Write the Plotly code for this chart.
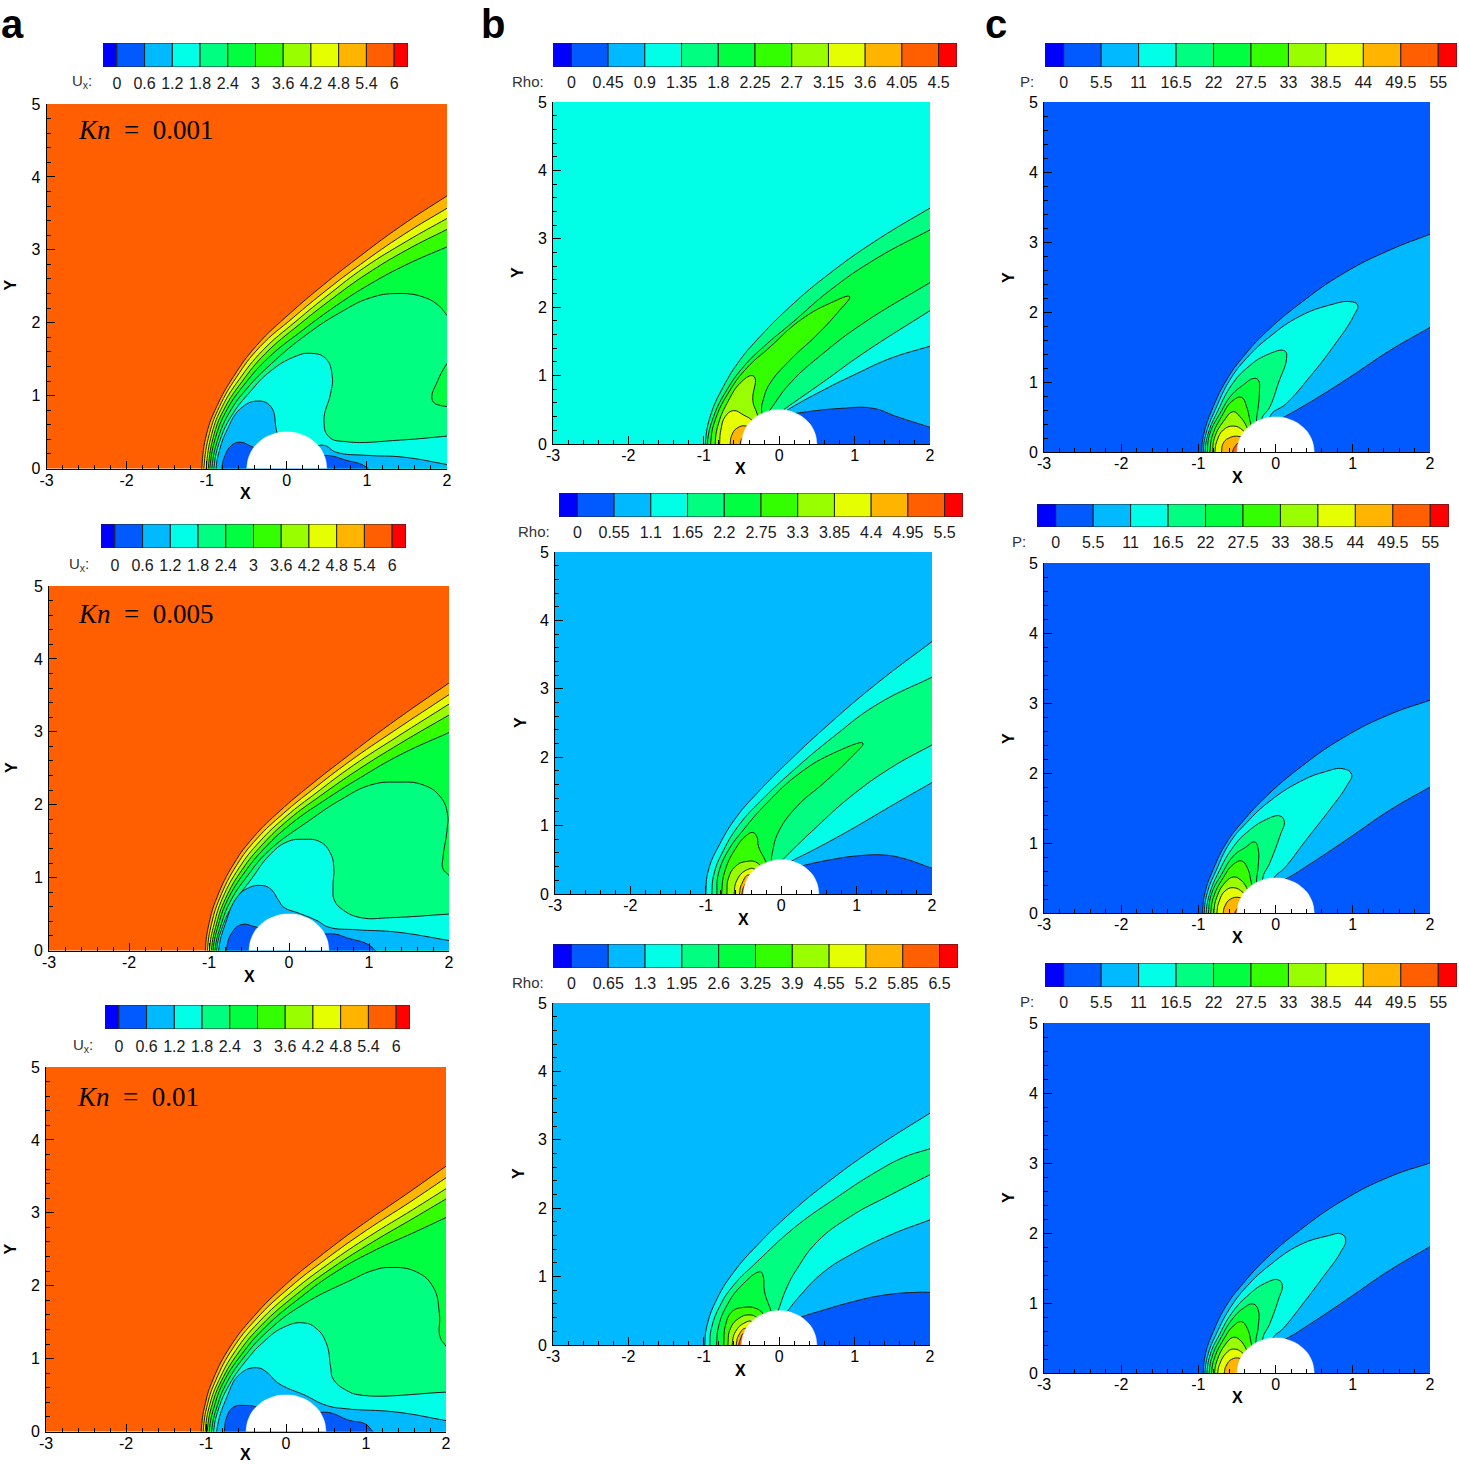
import plotly.graph_objects as go

W, H = 1459, 1465

# ---------- contour level colours (index 1..12 of the legend bar) ----------
LEVEL_COLORS = ["#0000FF", "#005AFF", "#00B9FF", "#00FFE6", "#00FF80", "#00FF40",
                "#33FF00", "#99FF00", "#E6FF00", "#FFB400", "#FF5F00", "#FF0000"]

# ---------- legend levels ----------
ux_levels = [0, 0.6, 1.2, 1.8, 2.4, 3, 3.6, 4.2, 4.8, 5.4, 6]
ux_labels = ["0", "0.6", "1.2", "1.8", "2.4", "3", "3.6", "4.2", "4.8", "5.4", "6"]
rho1_levels = [0, 0.45, 0.9, 1.35, 1.8, 2.25, 2.7, 3.15, 3.6, 4.05, 4.5]
rho1_labels = ["0", "0.45", "0.9", "1.35", "1.8", "2.25", "2.7", "3.15", "3.6", "4.05", "4.5"]
rho2_levels = [0, 0.55, 1.1, 1.65, 2.2, 2.75, 3.3, 3.85, 4.4, 4.95, 5.5]
rho2_labels = ["0", "0.55", "1.1", "1.65", "2.2", "2.75", "3.3", "3.85", "4.4", "4.95", "5.5"]
rho3_levels = [0, 0.65, 1.3, 1.95, 2.6, 3.25, 3.9, 4.55, 5.2, 5.85, 6.5]
rho3_labels = ["0", "0.65", "1.3", "1.95", "2.6", "3.25", "3.9", "4.55", "5.2", "5.85", "6.5"]
p_levels = [0, 5.5, 11, 16.5, 22, 27.5, 33, 38.5, 44, 49.5, 55]
p_labels = ["0", "5.5", "11", "16.5", "22", "27.5", "33", "38.5", "44", "49.5", "55"]

x_ticks = [-3, -2, -1, 0, 1, 2]
x_tick_labels = ["-3", "-2", "-1", "0", "1", "2"]
y_ticks = [0, 1, 2, 3, 4, 5]
y_tick_labels = ["0", "1", "2", "3", "4", "5"]
x_minor = [-2.8, -2.6, -2.4, -2.2, -1.8, -1.6, -1.4, -1.2, -0.8, -0.6, -0.4, -0.2,
           0.2, 0.4, 0.6, 0.8, 1.2, 1.4, 1.6, 1.8]
y_minor = [0.2, 0.4, 0.6, 0.8, 1.2, 1.4, 1.6, 1.8, 2.2, 2.4, 2.6, 2.8,
           3.2, 3.4, 3.6, 3.8, 4.2, 4.4, 4.6, 4.8]

# ---------- cylinder outline ----------
body = [(-0.5, -0.15), (-0.5, 0), (-0.46, 0.195), (-0.354, 0.354), (-0.191, 0.462), (0, 0.5),
        (0.191, 0.462), (0.354, 0.354), (0.46, 0.195), (0.5, 0), (0.5, -0.15)]

# ---------- panel a1 (Ux, Kn = 0.001) ----------
a1_amber = [(-1.062, 0), (-1.0, .48), (-.875, .85), (-.666, 1.26), (-.375, 1.69), (.042, 2.13), (.459, 2.52), (.875, 2.88), (1.417, 3.32), (2, 3.74)]
a1_yellow = [(-1.035, 0), (-.965, .48), (-.84, .85), (-.63, 1.25), (-.335, 1.67), (.08, 2.07), (.5, 2.45), (.92, 2.80), (1.46, 3.21), (2, 3.57)]
a1_lime = [(-1.005, 0), (-.935, .48), (-.805, .85), (-.595, 1.22), (-.30, 1.62), (.115, 2.02), (.54, 2.40), (.96, 2.75), (1.5, 3.12), (2, 3.43)]
a1_g7 = [(-.98, 0), (-.905, .48), (-.775, .83), (-.56, 1.19), (-.265, 1.58), (.15, 1.97), (.58, 2.34), (1.0, 2.67), (1.5, 3.0), (2, 3.28)]
a1_g6 = [(-.96, 0), (-.88, .46), (-.74, .82), (-.525, 1.16), (-.23, 1.52), (.19, 1.89), (.625, 2.24), (1.04, 2.53), (1.5, 2.80), (2, 3.04)]
a1_spring = [(-.935, 0), (-.855, .42), (-.71, .78), (-.495, 1.10), (-.19, 1.44), (.25, 1.84), (.667, 2.14), (1.04, 2.34), (1.375, 2.40), (1.71, 2.35), (1.9, 2.23), (2, 2.1)]
a1_cyan = [(-.91, 0), (-.83, .40), (-.68, .74), (-.46, 1.05), (-.21, 1.33), (.09, 1.53), (.297, 1.58), (.485, 1.51), (.568, 1.26), (.547, 1.03), (.464, .66), (.527, .435), (.756, .366), (1.42, .39), (2, .444)]
a1_sky = [(-.883, 0), (-.84, .25), (-.746, .53), (-.58, .82), (-.37, .925), (-.2, .85), (-.12, .48), (0, .1), (.438, .32), (.625, .22), (1.0, .18), (1.46, .155), (2, .055)]
a1_blue = [(-.81, 0), (-.77, .18), (-.687, .32), (-.583, .36), (-.416, .29), (0, .1), (.48, .18), (.75, .11), (.96, .04), (1.04, -.05)]
a1_island = [(2.4, 2.0), (2, 1.44), (1.87, 1.17), (1.81, .98), (1.84, .90), (1.9, .87), (2, .85), (2.4, .83)]

# ---------- panel a2 (Ux, Kn = 0.005) ----------
a2_amber = [(-1.046, 0), (-1.0, .37), (-.9, .73), (-.69, 1.19), (-.44, 1.56), (-.108, 1.92), (.27, 2.27), (.725, 2.66), (1.27, 3.11), (2, 3.67)]
a2_yellow = [(-1.02, 0), (-.965, .38), (-.865, .72), (-.655, 1.17), (-.405, 1.53), (-.07, 1.88), (.31, 2.22), (.765, 2.60), (1.31, 3.01), (2, 3.51)]
a2_lime = [(-.995, 0), (-.935, .37), (-.83, .72), (-.62, 1.14), (-.37, 1.49), (-.035, 1.84), (.35, 2.17), (.805, 2.54), (1.35, 2.93), (2, 3.38)]
a2_g7 = [(-.97, 0), (-.905, .37), (-.795, .71), (-.585, 1.11), (-.335, 1.45), (0, 1.80), (.39, 2.12), (.85, 2.47), (1.39, 2.84), (2, 3.23)]
a2_g6 = [(-.95, 0), (-.88, .36), (-.765, .70), (-.55, 1.08), (-.30, 1.41), (.04, 1.75), (.43, 2.05), (.89, 2.37), (1.4, 2.69), (2, 2.99)]
a2_spring = [(-.925, 0), (-.85, .35), (-.73, .68), (-.515, 1.03), (-.26, 1.36), (.25, 1.78), (.65, 2.07), (1.02, 2.27), (1.35, 2.31), (1.68, 2.27), (1.89, 2.11), (1.98, 1.88), (1.975, 1.65), (1.925, 1.28), (1.925, 1.12), (2, 1.03)]
a2_cyan = [(-.905, 0), (-.83, .33), (-.69, .65), (-.47, .98), (-.25, 1.30), (-.025, 1.49), (.183, 1.525), (.39, 1.49), (.52, 1.33), (.56, 1.14), (.55, .87), (.567, .69), (.683, .55), (.9, .45), (1.27, .45), (2, .50)]
a2_sky = [(-.88, 0), (-.796, .366), (-.65, .73), (-.504, .86), (-.358, .893), (-.233, .847), (-.13, .687), (-.067, .595), (.142, .504), (.35, .41), (.496, .32), (.85, .284), (1.35, .252), (2, .137)]
a2_blue = [(-.783, 0), (-.71, .25), (-.59, .357), (-.44, .33), (-.36, .30), (0, .1), (.496, .23), (.767, .16), (.975, .09), (1.08, 0), (1.12, -.05)]

# ---------- panel a3 (Ux, Kn = 0.01) ----------
a3_amber = [(-1.06, 0), (-1.01, .38), (-.91, .72), (-.70, 1.16), (-.41, 1.57), (.01, 2.03), (.467, 2.44), (.967, 2.85), (1.51, 3.26), (2, 3.64)]
a3_yellow = [(-1.035, 0), (-.98, .38), (-.875, .71), (-.665, 1.14), (-.375, 1.54), (.05, 1.98), (.505, 2.37), (1.005, 2.76), (1.54, 3.14), (2, 3.48)]
a3_lime = [(-1.01, 0), (-.95, .38), (-.84, .70), (-.63, 1.11), (-.34, 1.50), (.09, 1.93), (.545, 2.31), (1.045, 2.68), (1.58, 3.04), (2, 3.33)]
a3_g7 = [(-.985, 0), (-.92, .38), (-.805, .70), (-.595, 1.08), (-.305, 1.46), (.13, 1.88), (.585, 2.25), (1.085, 2.60), (1.6, 2.93), (2, 3.19)]
a3_g6 = [(-.96, 0), (-.89, .37), (-.775, .69), (-.56, 1.05), (-.27, 1.42), (.17, 1.83), (.625, 2.19), (1.10, 2.48), (1.6, 2.73), (2, 2.935)]
a3_spring = [(-.93, 0), (-.86, .35), (-.74, .67), (-.525, 1.02), (-.235, 1.37), (.21, 1.74), (.8, 2.07), (1.09, 2.21), (1.3, 2.25), (1.63, 2.19), (1.84, 1.98), (1.917, 1.62), (1.925, 1.30), (2, 1.17)]
a3_cyan = [(-.905, 0), (-.84, .32), (-.71, .64), (-.50, .97), (-.29, 1.22), (-.03, 1.43), (.217, 1.49), (.383, 1.41), (.508, 1.20), (.558, .88), (.59, .72), (.758, .563), (.967, .495), (2, .54)]
a3_sky = [(-.867, 0), (-.74, .47), (-.575, .79), (-.367, .875), (-.242, .815), (-.117, .68), (.008, .60), (.217, .508), (.508, .357), (.758, .311), (1.383, .266), (2, .15)]
a3_blue = [(-.77, 0), (-.74, .2), (-.658, .334), (-.512, .357), (-.367, .334), (0, .1), (.467, .266), (.8, .15), (.988, .105), (1.083, 0), (1.12, -.05)]

# ---------- panel b1 (Rho) ----------
b1_spring = [(-.98, 0), (-.916, .40), (-.74, .84), (-.518, 1.23), (-.296, 1.52), (.146, 2.01), (.677, 2.50), (1.30, 2.985), (2, 3.45)]
b1_g6 = [(-.955, 0), (-.87, .40), (-.695, .79), (-.473, 1.13), (-.208, 1.42), (.19, 1.79), (.677, 2.25), (1.3, 2.72), (2, 3.13)]
b1_g7 = [(-.91, 0), (-.85, .35), (-.65, .79), (-.43, 1.11), (-.12, 1.42), (.28, 1.81), (.677, 2.06), (.934, 2.155), (.765, 1.91), (.5, 1.595), (.146, 1.23), (-.12, .89), (-.2, .69), (-.23, .45), (-.1, .1), (-.3, -.3)]
b1_lime = [(-.85, 0), (-.805, .30), (-.67, .64), (-.518, .89), (-.363, 1.0), (-.32, .96), (-.35, .64), (-.296, .45), (-.2, .1), (-.3, -.3)]
b1_yellow = [(-.79, 0), (-.774, .2), (-.717, .40), (-.606, .488), (-.473, .424), (-.354, .34), (-.2, .1), (-.4, -.3)]
b1_amber = [(-.65, 0), (-.628, .13), (-.562, .23), (-.43, .26), (-.3, .1), (-.4, -.3)]
b1_orange = [(-.517, 0), (-.495, .08), (-.45, .13), (-.3, .05), (-.4, -.3)]
b1_low_spring = [(-.4, .15), (-.25, .3), (-.12, .5), (.146, .89), (.588, 1.33), (1.12, 1.77), (2, 2.36)]
b1_low_cyan = [(-.3, .2), (-.1, .37), (.057, .5), (.588, .91), (1.12, 1.33), (2, 1.95)]
b1_low_sky = [(-.2, .2), (-.05, .37), (.1, .49), (.588, .79), (1.03, 1.03), (1.47, 1.25), (2, 1.43)]
b1_low_blue = [(-.1, .38), (.08, .42), (.235, .45), (.81, .52), (1.25, .52), (1.56, .40), (2, .245)]

# ---------- panel b2 (Rho) ----------
b2_cyan = [(-1.0, 0), (-.965, .35), (-.81, .74), (-.59, 1.13), (-.323, 1.47), (.12, 1.96), (.65, 2.5), (1.27, 3.08), (2, 3.69)]
b2_spring = [(-.92, 0), (-.89, .30), (-.765, .64), (-.545, 1.03), (-.28, 1.35), (.164, 1.81), (.695, 2.30), (1.27, 2.77), (2, 3.17)]
b2_g6 = [(-.854, 0), (-.832, .30), (-.70, .64), (-.5, .94), (-.19, 1.33), (.25, 1.77), (.695, 2.06), (1.084, 2.205), (.916, 1.985), (.562, 1.62), (.208, 1.28), (-.035, .91), (-.11, .64), (-.124, .47), (0, .1), (-.2, -.3)]
b2_g7 = [(-.79, 0), (-.743, .35), (-.59, .69), (-.478, .84), (-.38, .90), (-.323, .84), (-.30, .69), (-.2, .46), (-.1, .1), (-.3, -.3)]
b2_lime = [(-.72, 0), (-.70, .23), (-.61, .40), (-.478, .473), (-.30, .44), (-.2, .1), (-.4, -.3)]
b2_yellow = [(-.624, 0), (-.588, .2), (-.478, .34), (-.345, .36), (-.25, .1), (-.4, -.3)]
b2_amber = [(-.553, 0), (-.52, .156), (-.434, .278), (-.3, .1), (-.45, -.3)]
b2_orange = [(-.52, 0), (-.49, .117), (-.434, .18), (-.3, .1), (-.45, -.3)]
b2_low_cyan = [(-.35, .1), (-.15, .3), (.01, .49), (.473, .985), (.916, 1.42), (1.447, 1.84), (2, 2.18)]
b2_low_sky = [(-.2, .18), (-.05, .35), (.12, .47), (.473, .67), (.916, .937), (1.447, 1.28), (2, 1.63)]
b2_low_blue = [(-.1, .28), (.1, .35), (.274, .41), (.65, .50), (1.0, .556), (1.36, .57), (1.62, .52), (2, .376)]

# ---------- panel b3 (Rho) ----------
b3_cyan = [(-.987, 0), (-.956, .29), (-.823, .68), (-.60, 1.07), (-.29, 1.46), (.15, 1.93), (.68, 2.41), (1.30, 2.90), (2, 3.39)]
b3_spring = [(-.92, 0), (-.90, .24), (-.78, .585), (-.60, .88), (-.29, 1.22), (.195, 1.71), (.726, 2.13), (1.30, 2.54), (1.655, 2.745), (2, 2.87)]
b3_g6 = [(-.83, 0), (-.80, .29), (-.69, .585), (-.513, .854), (-.248, 1.07), (-.212, 1.0), (-.195, .78), (-.106, .49), (0, .1), (-.1, -.3)]
b3_g7 = [(-.735, 0), (-.712, .29), (-.624, .49), (-.47, .55), (-.314, .537), (-.212, .45), (-.1, .1), (-.3, -.3)]
b3_lime = [(-.68, 0), (-.646, .244), (-.535, .39), (-.40, .44), (-.29, .39), (-.2, .1), (-.3, -.3)]
b3_yellow = [(-.624, 0), (-.58, .195), (-.47, .317), (-.358, .34), (-.25, .1), (-.4, -.3)]
b3_amber = [(-.57, 0), (-.535, .146), (-.447, .244), (-.3, .1), (-.4, -.3)]
b3_orange = [(-.535, 0), (-.513, .088), (-.47, .17), (-.3, .1), (-.45, -.3)]
b3_low_cyan = [(-.15, .1), (-.08, .3), (-.018, .488), (.106, .854), (.24, 1.12), (.504, 1.51), (.947, 1.88), (1.478, 2.195), (2, 2.49)]
b3_low_sky = [(-.1, .15), (0, .33), (.106, .488), (.283, .73), (.593, 1.07), (.947, 1.32), (1.478, 1.61), (2, 1.83)]
b3_low_blue = [(-.1, .22), (.1, .32), (.283, .405), (.593, .512), (.947, .624), (1.39, .73), (1.83, .77), (2, .77)]

# ---------- panel c1 (P) ----------
c1_sky = [(-.958, 0), (-.928, .267), (-.807, .648), (-.635, 1.03), (-.42, 1.36), (-.117, 1.72), (.315, 2.12), (.877, 2.55), (1.48, 2.886), (2, 3.11)]
c1_low_blue = [(-.3, .28), (-.1, .38), (.078, .48), (.488, .74), (.963, 1.07), (1.48, 1.45), (2, 1.78)]
c1_cyan = [(-.937, 0), (-.90, .267), (-.764, .648), (-.592, 1.03), (-.376, 1.34), (-.073, 1.65), (.315, 1.94), (.704, 2.10), (.963, 2.148), (1.062, 2.10), (1.006, 1.933), (.747, 1.505), (.445, 1.076), (.142, .695), (-.073, .505), (-.05, .1), (-.3, -.3)]
c1_spring = [(-.915, 0), (-.872, .267), (-.743, .60), (-.57, .957), (-.376, 1.195), (-.117, 1.386), (.12, 1.443), (.142, 1.338), (.035, .98), (-.073, .648), (-.18, .457), (-.1, .1), (-.3, -.3)]
c1_g6 = [(-.885, 0), (-.85, .267), (-.72, .552), (-.57, .814), (-.42, .957), (-.29, 1.05), (-.225, 1.03), (-.21, .838), (-.225, .648), (-.246, .433), (-.2, .1), (-.3, -.3)]
c1_g7 = [(-.85, 0), (-.816, .243), (-.70, .505), (-.57, .72), (-.44, .78), (-.376, .648), (-.324, .41), (-.25, .1), (-.4, -.3)]
c1_lime = [(-.816, 0), (-.786, .22), (-.678, .433), (-.548, .576), (-.462, .505), (-.376, .362), (-.3, .1), (-.4, -.3)]
c1_yellow = [(-.786, 0), (-.756, .17), (-.678, .314), (-.548, .371), (-.42, .305), (-.3, .1), (-.45, -.3)]
c1_amber = [(-.70, 0), (-.678, .124), (-.613, .195), (-.462, .22), (-.3, .1), (-.45, -.3)]
c1_orange = [(-.557, 0), (-.527, .076), (-.484, .124), (-.3, .1), (-.45, -.3)]

# ---------- panel c2 (P) ----------
c2_sky = [(-.946, 0), (-.915, .29), (-.807, .624), (-.635, 1.005), (-.42, 1.314), (-.117, 1.67), (.315, 2.076), (.877, 2.505), (1.48, 2.838), (2, 3.04)]
c2_low_blue = [(-.3, .28), (-.1, .38), (.12, .48), (.488, .73), (.963, 1.08), (1.48, 1.47), (2, 1.8)]
c2_cyan = [(-.925, 0), (-.885, .29), (-.773, .60), (-.592, 1.005), (-.376, 1.29), (-.073, 1.6), (.315, 1.876), (.617, 2.01), (.876, 2.06), (.984, 1.98), (.92, 1.814), (.704, 1.48), (.40, 1.05), (.12, .648), (-.03, .48), (-.05, .1), (-.3, -.3)]
c2_spring = [(-.90, 0), (-.85, .29), (-.73, .60), (-.57, .91), (-.376, 1.148), (-.117, 1.338), (.056, 1.386), (.112, 1.314), (.056, 1.1), (-.073, .72), (-.168, .48), (-.1, .1), (-.3, -.3)]
c2_g6 = [(-.87, 0), (-.825, .29), (-.70, .552), (-.548, .814), (-.397, .933), (-.268, 1.014), (-.225, .91), (-.225, .67), (-.246, .433), (-.2, .1), (-.3, -.3)]
c2_g7 = [(-.84, 0), (-.80, .243), (-.678, .505), (-.548, .695), (-.44, .743), (-.367, .648), (-.31, .41), (-.25, .1), (-.4, -.3)]
c2_lime = [(-.80, 0), (-.764, .22), (-.656, .433), (-.548, .514), (-.462, .48), (-.376, .362), (-.3, .1), (-.4, -.3)]
c2_yellow = [(-.76, 0), (-.73, .17), (-.656, .314), (-.548, .362), (-.42, .29), (-.3, .1), (-.45, -.3)]
c2_amber = [(-.678, 0), (-.656, .1), (-.59, .195), (-.462, .22), (-.3, .1), (-.45, -.3)]
c2_orange = [(-.527, 0), (-.505, .05), (-.462, .1), (-.35, .1), (-.45, -.3)]

# ---------- panel c3 (P) ----------
c3_sky = [(-.937, 0), (-.907, .28), (-.807, .59), (-.635, .97), (-.42, 1.28), (-.117, 1.64), (.315, 2.04), (.877, 2.47), (1.48, 2.805), (2, 3.0)]
c3_low_blue = [(-.3, .28), (-.1, .38), (.12, .48), (.488, .73), (.963, 1.08), (1.48, 1.47), (2, 1.805)]
c3_cyan = [(-.915, 0), (-.872, .28), (-.764, .567), (-.592, .924), (-.376, 1.233), (-.073, 1.543), (.315, 1.83), (.661, 1.955), (.855, 1.985), (.907, 1.9), (.834, 1.71), (.618, 1.376), (.358, .995), (.1, .638), (-.04, .486), (-.05, .1), (-.3, -.3)]
c3_spring = [(-.89, 0), (-.842, .28), (-.73, .543), (-.57, .852), (-.376, 1.09), (-.14, 1.28), (.035, 1.33), (.086, 1.257), (.035, 1.043), (-.073, .71), (-.168, .47), (-.1, .1), (-.3, -.3)]
c3_g6 = [(-.86, 0), (-.816, .257), (-.70, .52), (-.57, .757), (-.42, .924), (-.29, .986), (-.225, .9), (-.225, .662), (-.255, .424), (-.2, .1), (-.3, -.3)]
c3_g7 = [(-.83, 0), (-.786, .233), (-.678, .471), (-.548, .671), (-.44, .733), (-.367, .638), (-.31, .4), (-.25, .1), (-.4, -.3)]
c3_lime = [(-.79, 0), (-.756, .186), (-.656, .4), (-.548, .51), (-.462, .471), (-.376, .329), (-.3, .1), (-.4, -.3)]
c3_yellow = [(-.75, 0), (-.72, .138), (-.643, .28), (-.548, .343), (-.42, .28), (-.3, .1), (-.45, -.3)]
c3_amber = [(-.665, 0), (-.635, .114), (-.57, .195), (-.462, .21), (-.3, .1), (-.45, -.3)]

# ---------- panel definitions: colour index (1-based) of each filled region ----------
# rect = left, right, top, bottom of plot area in px; bar = left, right, top, bottom of legend in px
panels = [
    dict(rect=(46.5, 447, 104, 468.5), bg=11, regions=[(10, a1_amber), (9, a1_yellow), (8, a1_lime), (7, a1_g7), (6, a1_g6), (5, a1_spring), (4, a1_cyan), (3, a1_sky), (2, a1_blue), (6, a1_island)],
         bar=(103, 408, 43, 67), levels=ux_levels, labels=ux_labels, name="U<sub>x</sub>:", name_x=82, lab_y=82, xt=(245, 494), yt=(9.5, 285), kn=("<i>Kn</i>\u2002=\u20020.001", 76, 130)),
    dict(rect=(49, 449, 586, 950.5), bg=11, regions=[(10, a2_amber), (9, a2_yellow), (8, a2_lime), (7, a2_g7), (6, a2_g6), (5, a2_spring), (4, a2_cyan), (3, a2_sky), (2, a2_blue)],
         bar=(101, 406, 524, 548), levels=ux_levels, labels=ux_labels, name="U<sub>x</sub>:", name_x=79, lab_y=564, xt=(249, 976), yt=(11, 768), kn=("<i>Kn</i>\u2002=\u20020.005", 76, 614)),
    dict(rect=(46, 446, 1067, 1431.5), bg=11, regions=[(10, a3_amber), (9, a3_yellow), (8, a3_lime), (7, a3_g7), (6, a3_g6), (5, a3_spring), (4, a3_cyan), (3, a3_sky), (2, a3_blue)],
         bar=(105, 410, 1005, 1029), levels=ux_levels, labels=ux_labels, name="U<sub>x</sub>:", name_x=83, lab_y=1045, xt=(245, 1454.5), yt=(9.5, 1249), kn=("<i>Kn</i>\u2002=\u20020.01", 75, 1097)),
    dict(rect=(553, 930, 102, 444), bg=4, regions=[(5, b1_spring), (6, b1_g6), (7, b1_g7), (8, b1_lime), (9, b1_yellow), (10, b1_amber), (11, b1_orange), (5, b1_low_spring), (4, b1_low_cyan), (3, b1_low_sky), (2, b1_low_blue)],
         bar=(553, 957, 43, 67), levels=rho1_levels, labels=rho1_labels, name="Rho:", name_x=528, lab_y=81, xt=(741, 469), yt=(518, 273), kn=None),
    dict(rect=(555, 932, 552, 894), bg=3, regions=[(4, b2_cyan), (5, b2_spring), (6, b2_g6), (7, b2_g7), (8, b2_lime), (9, b2_yellow), (10, b2_amber), (11, b2_orange), (4, b2_low_cyan), (3, b2_low_sky), (2, b2_low_blue)],
         bar=(559, 963, 493, 517), levels=rho2_levels, labels=rho2_labels, name="Rho:", name_x=534, lab_y=531, xt=(743, 919), yt=(520, 723), kn=None),
    dict(rect=(553, 930, 1003, 1345), bg=3, regions=[(4, b3_cyan), (5, b3_spring), (6, b3_g6), (7, b3_g7), (8, b3_lime), (9, b3_yellow), (10, b3_amber), (11, b3_orange), (4, b3_low_cyan), (3, b3_low_sky), (2, b3_low_blue)],
         bar=(553, 958, 944, 968), levels=rho3_levels, labels=rho3_labels, name="Rho:", name_x=528, lab_y=982, xt=(741, 1370), yt=(518, 1174), kn=None),
    dict(rect=(1044, 1430, 102, 452), bg=2, regions=[(3, c1_sky), (2, c1_low_blue), (4, c1_cyan), (5, c1_spring), (6, c1_g6), (7, c1_g7), (8, c1_lime), (9, c1_yellow), (10, c1_amber), (11, c1_orange)],
         bar=(1045, 1457, 43, 67), levels=p_levels, labels=p_labels, name="P:", name_x=1027, lab_y=81, xt=(1237, 477), yt=(1008, 277), kn=None),
    dict(rect=(1044, 1430, 563, 913), bg=2, regions=[(3, c2_sky), (2, c2_low_blue), (4, c2_cyan), (5, c2_spring), (6, c2_g6), (7, c2_g7), (8, c2_lime), (9, c2_yellow), (10, c2_amber), (11, c2_orange)],
         bar=(1037, 1449, 504, 527), levels=p_levels, labels=p_labels, name="P:", name_x=1019, lab_y=541, xt=(1237, 938), yt=(1008, 738), kn=None),
    dict(rect=(1044, 1430, 1023, 1373), bg=2, regions=[(3, c3_sky), (2, c3_low_blue), (4, c3_cyan), (5, c3_spring), (6, c3_g6), (7, c3_g7), (8, c3_lime), (9, c3_yellow), (10, c3_amber)],
         bar=(1045, 1457, 963, 987), levels=p_levels, labels=p_labels, name="P:", name_x=1027, lab_y=1001, xt=(1237, 1397), yt=(1008, 1197), kn=None),
]
panel_letters = [("a", 12, 24), ("b", 493, 24), ("c", 996, 24)]

FONT = "Liberation Sans, Arial, sans-serif"
LINE = "#1c1c1c"


def polygon(curve):
    """Close a contour curve outside the visible plot area / under the axis."""
    if curve[0][0] > 2:          # region that already closes right of the plot
        return list(curve)
    x0 = curve[0][0]
    pts = [(x0, -0.5)] + list(curve)
    (xa, ya), (xb, yb) = curve[-2], curve[-1]
    if xb >= 2:                  # leaves through the right edge
        slope = (yb - ya) / max(xb - xa, 1e-6)
        pts += [(2.35, yb + 0.35 * slope), (2.7, -1.0), (2.0, -1.3), (x0, -1.3)]
    else:                        # ends below the axis
        pts += [(xb, -1.0), (x0, -1.0)]
    return pts


def xpaper(px):
    return px / W


def ypaper(px):
    return 1 - px / H


fig = go.Figure()
layout = {}
annotations = []
shapes = []


def text(txt, x, y, size, bold=False, color="black", angle=0, family=FONT, xanchor="center"):
    annotations.append(dict(text=f"<b>{txt}</b>" if bold else txt, x=xpaper(x), y=ypaper(y),
                            xref="paper", yref="paper", xanchor=xanchor, yanchor="middle",
                            showarrow=False, textangle=angle,
                            font=dict(family=family, size=size, color=color)))


ax = 1
for p in panels:
    # ---- main contour axes ----
    xn, yn = ("x" if ax == 1 else f"x{ax}"), ("y" if ax == 1 else f"y{ax}")
    l, r, t, b = p["rect"]
    layout[f"xaxis{'' if ax == 1 else ax}"] = dict(
        domain=[xpaper(l), xpaper(r)], range=[-3, 2], anchor=yn, fixedrange=True, automargin=False,
        showgrid=False, zeroline=False, showline=True, linecolor="black", linewidth=1,
        tickmode="array", tickvals=x_ticks, ticktext=x_tick_labels, ticks="inside", ticklen=8,
        ticklabelstandoff=-3,
        tickcolor="black", tickwidth=1, tickfont=dict(family=FONT, size=16, color="black"),
        minor=dict(tickmode="array", tickvals=x_minor, ticks="inside", ticklen=4, tickcolor="black", tickwidth=1, showgrid=False))
    layout[f"yaxis{'' if ax == 1 else ax}"] = dict(
        domain=[ypaper(b), ypaper(t)], range=[0, 5], anchor=xn, fixedrange=True, automargin=False,
        showgrid=False, zeroline=False, showline=True, linecolor="black", linewidth=1,
        tickmode="array", tickvals=y_ticks, ticktext=y_tick_labels, ticks="inside", ticklen=8,
        ticklabelstandoff=2,
        tickcolor="black", tickwidth=1, tickfont=dict(family=FONT, size=16, color="black"),
        minor=dict(tickmode="array", tickvals=y_minor, ticks="inside", ticklen=4, tickcolor="black", tickwidth=1, showgrid=False))
    shapes.append(dict(type="rect", xref="paper", yref="paper", x0=xpaper(l), x1=xpaper(r),
                       y0=ypaper(b), y1=ypaper(t), fillcolor=LEVEL_COLORS[p["bg"] - 1],
                       line=dict(width=0), layer="below"))
    for idx, curve in p["regions"]:
        pts = polygon(curve)
        fig.add_trace(go.Scatter(x=[q[0] for q in pts], y=[q[1] for q in pts], xaxis=xn, yaxis=yn,
                                 mode="lines", fill="toself", fillcolor=LEVEL_COLORS[idx - 1],
                                 line=dict(color=LINE, width=1, shape="spline", smoothing=1.3),
                                 hoverinfo="skip", showlegend=False))
    fig.add_trace(go.Scatter(x=[q[0] for q in body], y=[q[1] for q in body], xaxis=xn, yaxis=yn,
                             mode="lines", fill="toself", fillcolor="white",
                             line=dict(color="white", width=0.5, shape="spline", smoothing=1.3),
                             hoverinfo="skip", showlegend=False))
    ax += 1

    # ---- legend bar axes ----
    xn, yn = f"x{ax}", f"y{ax}"
    l, r, t, b = p["bar"]
    lev = p["levels"]
    step = lev[1] - lev[0]
    edges = [lev[0] - step / 2] + list(lev) + [lev[-1] + step / 2]
    centers = [(edges[i] + edges[i + 1]) / 2 for i in range(len(edges) - 1)]
    widths = [edges[i + 1] - edges[i] for i in range(len(edges) - 1)]
    fig.add_trace(go.Bar(x=centers, y=[1] * len(centers), width=widths, xaxis=xn, yaxis=yn,
                         marker=dict(color=LEVEL_COLORS, line=dict(color="#222222", width=1)),
                         cliponaxis=False, hoverinfo="skip", showlegend=False))
    layout[f"xaxis{ax}"] = dict(
        domain=[xpaper(l), xpaper(r)], range=[edges[0], edges[-1]], anchor=yn, fixedrange=True, automargin=False,
        showgrid=False, zeroline=False, showline=False, tickmode="array", tickvals=lev,
        ticktext=p["labels"], ticks="", ticklabelstandoff=p["lab_y"] - b - 10,
        tickfont=dict(family=FONT, size=16, color="#1a1a1a"))
    layout[f"yaxis{ax}"] = dict(domain=[ypaper(b), ypaper(t)], range=[0, 1], anchor=xn, visible=False,
                                fixedrange=True, automargin=False)
    text(p["name"], p["name_x"], p["lab_y"], 15, color="#333333")
    text("X", p["xt"][0], p["xt"][1], 16, bold=True)
    text("Y", p["yt"][0], p["yt"][1], 16, bold=True, angle=-90)
    if p["kn"]:
        text(p["kn"][0], p["kn"][1], p["kn"][2], 27, family="Liberation Serif, serif", xanchor="left")
    ax += 1

for letter, lx, ly in panel_letters:
    text(letter, lx, ly, 40, bold=True)

fig.update_layout(width=W, height=H, margin=dict(l=0, r=0, t=0, b=0), autosize=False,
                  paper_bgcolor="white", plot_bgcolor="rgba(0,0,0,0)",
                  showlegend=False, annotations=annotations, shapes=shapes, **layout)

fig.write_html("out.html", config=dict(displayModeBar=False),
               post_script="document.body.style.margin='0';document.documentElement.style.overflow='hidden';")
